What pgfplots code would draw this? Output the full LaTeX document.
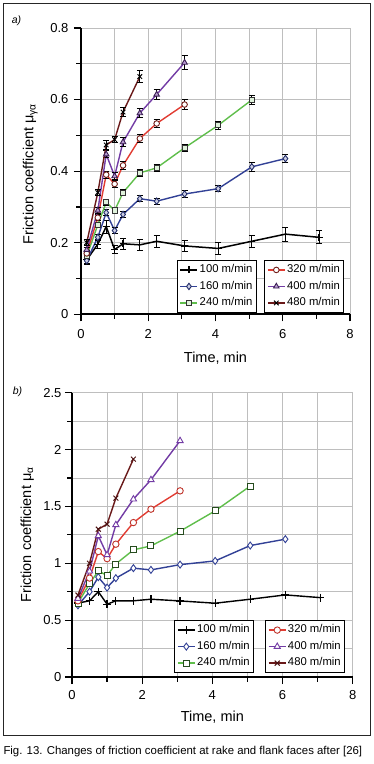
\documentclass[border=0pt]{standalone}
\usepackage{pgfplots}
\pgfplotsset{compat=1.18}
\usepackage{fontspec}
\setmainfont{Liberation Sans}
\definecolor{cBlue}{RGB}{50,65,150}
\definecolor{cGreen}{RGB}{95,190,75}
\definecolor{cRed}{RGB}{225,60,50}
\definecolor{cPurple}{RGB}{115,60,165}
\definecolor{cBrown}{RGB}{105,25,25}
\definecolor{cGrid}{RGB}{190,190,190}
\newcommand{\labfont}{\fontsize{14.5}{17}\selectfont}
\pgfplotsset{
  common/.style={scale only axis, xmin=0, xmax=8,
    axis x line*=bottom, axis y line*=left,
    xtick={0,2,4,6,8}, minor xtick={1,3,5,7},
    grid=both, major grid style={cGrid,line width=0.8pt}, minor grid style={cGrid,line width=0.8pt},
    tick align=outside, major tick length=7pt, minor tick length=4.5pt,
    tick style={black,line width=1.2pt},
    axis line style={black,line width=1.8pt},
    /pgf/number format/assume math mode=true,
    tick label style={font=\fontsize{13}{15}\selectfont},
    xlabel={Time, min},
    legend cell align=left},
  legstyle/.style={legend style={anchor=south west, draw=black, line width=0.8pt, fill=white,
    font=\fontsize{11.3}{13}\selectfont, row sep=3pt, inner sep=2.5pt,
    nodes={inner sep=1.5pt, text height=8pt, text depth=2.5pt}, cells={anchor=west}}},
  eb/.style={error bars/y dir=both, error bars/y explicit,
    error bars/error bar style={black,line width=0.8pt},
    error bars/error mark options={black,rotate=90,mark size=3pt,line width=0.8pt}},
  a100/.style={black, line width=1.5pt, mark=+, mark size=3.5pt, mark options={line width=1.2pt}},
  a160/.style={cBlue, line width=1.4pt, mark=diamond*, mark size=3.2pt, mark options={draw=cBlue!70!black, fill=cBlue!25, line width=0.9pt}},
  a240/.style={cGreen, line width=1.4pt, mark=square*, mark size=2.6pt, mark options={draw=black!80, fill=cGreen!20, line width=0.9pt}},
  a320/.style={cRed, line width=1.4pt, mark=*, mark size=2.8pt, mark options={draw=cRed!50!black, fill=white, line width=0.9pt}},
  a400/.style={cPurple, line width=1.4pt, mark=triangle*, mark size=3.2pt, mark options={draw=cPurple!50!black, fill=cPurple!50, line width=0.9pt}},
  a480/.style={cBrown, line width=1.4pt, mark=x, mark size=3.2pt, mark options={draw=black, line width=1pt}},
  b100/.style={black, line width=1.4pt, mark=+, mark size=4pt, mark options={line width=1.2pt}},
  b160/.style={cBlue, line width=1.4pt, mark=diamond*, mark size=3.5pt, mark options={draw=cBlue, fill=white, line width=0.9pt}},
  b240/.style={cGreen, line width=1.4pt, mark=square*, mark size=3pt, mark options={draw=cGreen!40!black, fill=white, line width=0.9pt}},
  b320/.style={cRed, line width=1.4pt, mark=*, mark size=3.2pt, mark options={draw=cRed!85!black, fill=white, line width=0.9pt}},
  b400/.style={cPurple, line width=1.4pt, mark=triangle*, mark size=3.6pt, mark options={draw=cPurple, fill=white, line width=0.9pt}},
  b480/.style={cBrown, line width=1.4pt, mark=x, mark size=3.5pt, mark options={draw=cBrown!70!black, line width=1pt}},
}
\begin{document}
\begin{tikzpicture}
\path[use as bounding box] (0,0) rectangle (374pt,-764pt);
\draw[line width=1pt, black!85] (3.3pt,-3.3pt) rectangle (370.7pt,-735pt);
\node[anchor=base west, font=\itshape\fontsize{10.5}{12}\selectfont, inner sep=0pt] at (11.7pt,-23.3pt) {a)};
\node[anchor=base west, font=\itshape\fontsize{10.5}{12}\selectfont, inner sep=0pt] at (12.7pt,-394pt) {b)};
\node[anchor=base west, font=\fontsize{11.4}{13}\selectfont, inner sep=0pt] at (3.3pt,-754pt) {Fig. 13. Changes of friction coefficient at rake and flank faces after [26]};

% ---------------- panel a ----------------
\begin{axis}[common, at={(81pt,-314.3pt)}, anchor=south west, width=269pt, height=286.4pt,
  ymin=0, ymax=0.8, ytick={0,0.2,0.4,0.6,0.8}, minor ytick={0.1,0.3,0.5,0.7},
  xticklabel style={yshift=-5pt}, yticklabel style={xshift=-2pt},
  every axis y label/.style={at={(axis description cs:-0.177,0.49)}, rotate=90, anchor=base, font=\labfont},
  every axis x label/.style={at={(axis description cs:0.5,-0.169)}, anchor=base, font=\labfont},
  ylabel={Friction coefficient μ\textsubscript{γα}},
  legstyle, legend style={at={(0.356,0.006)}}]
\addplot[a100, eb] table[x=t, y=m, y error=e, row sep=\\] {
t m e\\ 0.17 0.152 0.012\\ 0.5 0.196 0.012\\ 0.75 0.245 0.018\\ 1.0 0.181 0.012\\ 1.25 0.197 0.015\\
1.75 0.194 0.015\\ 2.25 0.204 0.017\\ 3.08 0.191 0.016\\ 4.08 0.184 0.017\\ 5.08 0.204 0.016\\ 6.08 0.224 0.019\\ 7.08 0.215 0.018\\};
\addplot[a160, eb] table[x=t, y=m, y error=e, row sep=\\] {
t m e\\ 0.17 0.150 0.008\\ 0.5 0.215 0.008\\ 0.75 0.284 0.009\\ 1.0 0.234 0.008\\ 1.25 0.279 0.008\\
1.75 0.323 0.008\\ 2.25 0.316 0.008\\ 3.08 0.336 0.009\\ 4.08 0.351 0.009\\ 5.08 0.412 0.012\\ 6.08 0.435 0.012\\};
\addplot[a240, eb] table[x=t, y=m, y error=e, row sep=\\] {
t m e\\ 0.17 0.162 0.008\\ 0.5 0.250 0.008\\ 0.75 0.313 0.008\\ 1.0 0.290 0.008\\ 1.25 0.340 0.008\\
1.75 0.395 0.010\\ 2.25 0.409 0.010\\ 3.08 0.465 0.010\\ 4.08 0.528 0.012\\ 5.08 0.599 0.012\\};
\addplot[a320, eb] table[x=t, y=m, y error=e, row sep=\\] {
t m e\\ 0.17 0.170 0.008\\ 0.5 0.270 0.008\\ 0.75 0.390 0.010\\ 1.0 0.364 0.010\\ 1.25 0.416 0.010\\
1.75 0.491 0.012\\ 2.25 0.533 0.012\\ 3.08 0.586 0.014\\};
\addplot[a400, eb] table[x=t, y=m, y error=e, row sep=\\] {
t m e\\ 0.17 0.180 0.008\\ 0.5 0.290 0.008\\ 0.75 0.447 0.010\\ 1.0 0.386 0.010\\ 1.25 0.481 0.012\\
1.75 0.562 0.012\\ 2.25 0.614 0.014\\ 3.08 0.703 0.020\\};
\addplot[a480, eb] table[x=t, y=m, y error=e, row sep=\\] {
t m e\\ 0.17 0.200 0.008\\ 0.5 0.340 0.008\\ 0.75 0.473 0.012\\ 1.0 0.488 0.008\\ 1.25 0.565 0.012\\
1.75 0.664 0.016\\};
\legend{100 m/min, 160 m/min, 240 m/min}
\end{axis}
\begin{axis}[scale only axis, hide axis, at={(81pt,-314.3pt)}, anchor=south west, width=269pt, height=286.4pt,
  xmin=0, xmax=8, ymin=0, ymax=0.8, legend cell align=left,
  legstyle, legend style={at={(0.681,0.006)}}]
\addlegendimage{a320}\addlegendentry{320 m/min}
\addlegendimage{a400}\addlegendentry{400 m/min}
\addlegendimage{a480}\addlegendentry{480 m/min}
\end{axis}

% ---------------- panel b ----------------
\begin{axis}[common, at={(72pt,-677pt)}, anchor=south west, width=280.7pt, height=284.3pt,
  ymin=0, ymax=2.5, ytick={0,0.5,1,1.5,2,2.5}, minor ytick={0.25,0.75,1.25,1.75,2.25},
  xticklabel style={yshift=-3pt},
  every axis y label/.style={at={(axis description cs:-0.146,0.5)}, rotate=90, anchor=base, font=\labfont},
  every axis x label/.style={at={(axis description cs:0.5,-0.157)}, anchor=base, font=\labfont},
  ylabel={Friction coefficient μ\textsubscript{α}},
  legstyle, legend style={at={(0.364,0.015)}}]
\addplot[b100] table[x=t, y=m, row sep=\\] {
t m\\ 0.17 0.650\\ 0.5 0.670\\ 0.75 0.750\\ 1.0 0.640\\ 1.25 0.670\\ 1.75 0.670\\ 2.25 0.684\\
3.08 0.669\\ 4.08 0.649\\ 5.08 0.684\\ 6.08 0.722\\ 7.08 0.698\\};
\addplot[b160] table[x=t, y=m, row sep=\\] {
t m\\ 0.17 0.630\\ 0.5 0.750\\ 0.75 0.878\\ 1.0 0.786\\ 1.25 0.869\\ 1.75 0.957\\ 2.25 0.942\\
3.08 0.988\\ 4.08 1.021\\ 5.08 1.156\\ 6.08 1.212\\};
\addplot[b240] table[x=t, y=m, row sep=\\] {
t m\\ 0.17 0.650\\ 0.5 0.820\\ 0.75 0.933\\ 1.0 0.892\\ 1.25 0.994\\ 1.75 1.118\\ 2.25 1.153\\
3.08 1.282\\ 4.08 1.461\\ 5.08 1.679\\};
\addplot[b320] table[x=t, y=m, row sep=\\] {
t m\\ 0.17 0.670\\ 0.5 0.870\\ 0.75 1.103\\ 1.0 1.041\\ 1.25 1.168\\ 1.75 1.358\\ 2.25 1.476\\
3.08 1.637\\};
\addplot[b400] table[x=t, y=m, row sep=\\] {
t m\\ 0.17 0.690\\ 0.5 0.930\\ 0.75 1.241\\ 1.0 1.074\\ 1.25 1.338\\ 1.75 1.564\\ 2.25 1.734\\
3.08 2.077\\};
\addplot[b480] table[x=t, y=m, row sep=\\] {
t m\\ 0.17 0.720\\ 0.5 1.000\\ 0.75 1.300\\ 1.0 1.344\\ 1.25 1.573\\ 1.75 1.916\\};
\legend{100 m/min, 160 m/min, 240 m/min}
\end{axis}
\begin{axis}[scale only axis, hide axis, at={(72pt,-677pt)}, anchor=south west, width=280.7pt, height=284.3pt,
  xmin=0, xmax=8, ymin=0, ymax=2.5, legend cell align=left,
  legstyle, legend style={at={(0.688,0.015)}}]
\addlegendimage{b320}\addlegendentry{320 m/min}
\addlegendimage{b400}\addlegendentry{400 m/min}
\addlegendimage{b480}\addlegendentry{480 m/min}
\end{axis}
\end{tikzpicture}
\end{document}
